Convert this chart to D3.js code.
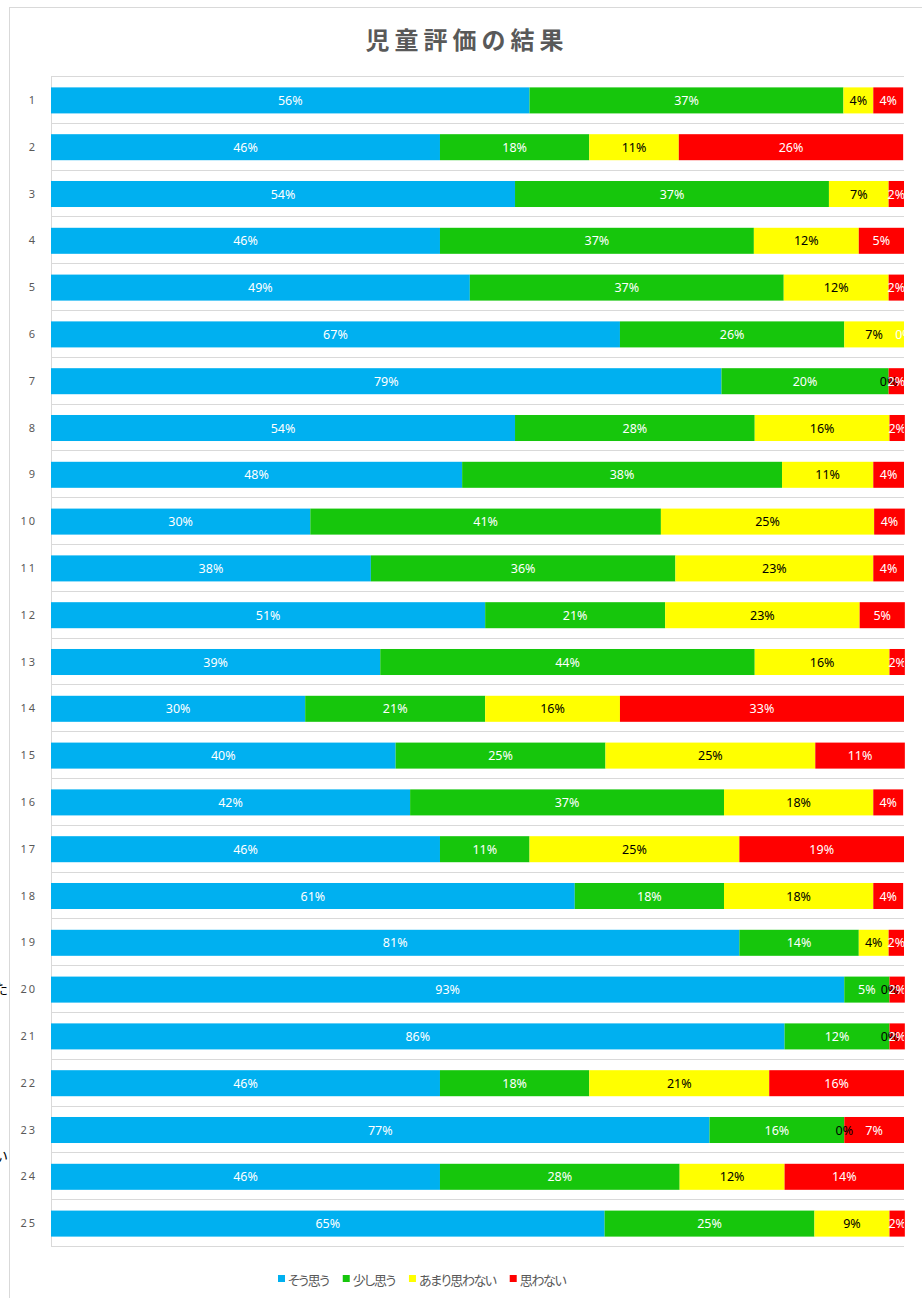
<html>
  <head>
    <meta charset="utf-8" />
    <title>児童評価の結果</title>
    <script src="https://d3js.org/d3.v7.min.js"></script>
  </head>
  <style>
    body {
      margin: 0;
      background: #ffffff;
    }
    svg {
      display: block;
    }
  </style>
  <body>
    <div id="viz"></div>
    <script>
      // data (percent of respondents per question)
      var categories = ["1","2","3","4","5","6","7","8","9","10","11","12","13",
        "14","15","16","17","18","19","20","21","22","23","24","25"];
      var seriesNames = ["そう思う", "少し思う", "あまり思わない", "思わない"];
      var souOmou = [56.1, 45.6, 54.4, 45.6, 49.1, 66.7, 78.6, 54.4, 48.2, 30.4, 37.5, 50.9, 38.6,
        29.8, 40.4, 42.1, 45.6, 61.4, 80.7, 93.0, 86.0, 45.6, 77.2, 45.6, 64.9];
      var sukoshiOmou = [36.8, 17.5, 36.8, 36.8, 36.8, 26.3, 19.6, 28.1, 37.5, 41.1, 35.7, 21.1, 43.9,
        21.1, 24.6, 36.8, 10.5, 17.5, 14.0, 5.3, 12.3, 17.5, 15.8, 28.1, 24.6];
      var amariOmowanai = [3.5, 10.5, 7.0, 12.3, 12.3, 7.0, 0, 15.8, 10.7, 25.0, 23.2, 22.8, 15.8,
        15.8, 24.6, 17.5, 24.6, 17.5, 3.5, 0, 0, 21.1, 0, 12.3, 8.8];
      var omowanai = [3.5, 26.3, 1.8, 5.3, 1.8, 0, 1.8, 1.8, 3.6, 3.6, 3.6, 5.3, 1.8,
        33.3, 10.5, 3.5, 19.3, 3.5, 1.8, 1.8, 1.8, 15.8, 7.0, 14.0, 1.8];

      var colors = ["#00b0f0", "#16c60c", "#ffff00", "#ff0000"];
      var labelColors = ["#ffffff", "#ffffff", "#000000", "#ffffff"];

      var table = categories.map(function (c, i) {
        return { cat: c, s0: souOmou[i], s1: sukoshiOmou[i], s2: amariOmowanai[i], s3: omowanai[i] };
      });
      var keys = ["s0", "s1", "s2", "s3"];
      var stacked = d3.stack().keys(keys)(table);

      var width = 922, height = 1298;
      var plot = { left: 51, right: 904, top: 77, bottom: 1247 };

      var svg = d3.select("#viz").append("svg")
        .attr("width", width)
        .attr("height", height);

      // stray characters from the sheet behind the chart
      svg.append("text").attr("x", -6).attr("y", 994)
        .style("font-family", "'Noto Sans CJK JP'").style("font-size", "14px")
        .attr("fill", "#000").text("た");
      svg.append("text").attr("x", -6).attr("y", 1161)
        .style("font-family", "'Noto Sans CJK JP'").style("font-size", "14px")
        .attr("fill", "#000").text("い");

      // chart area
      svg.append("rect")
        .attr("x", 9.5).attr("y", 7.5)
        .attr("width", 940).attr("height", 1320)
        .attr("fill", "#ffffff")
        .attr("stroke", "#d9d9d9");

      svg.append("text")
        .attr("x", 467).attr("y", 49)
        .attr("text-anchor", "middle")
        .style("font-family", "'Noto Sans CJK JP'")
        .style("font-weight", "bold")
        .style("font-size", "24px")
        .style("letter-spacing", "5px")
        .attr("fill", "#595959")
        .text("児童評価の結果");

      var x = d3.scaleLinear().domain([0, 100]).range([plot.left, plot.right]);
      var y = d3.scaleBand().domain(categories)
        .range([plot.top, plot.bottom])
        .paddingInner(0.444)
        .paddingOuter(0.222);

      // horizontal gridlines at category boundaries
      var gap = (y.step() - y.bandwidth()) / 2;
      var gridY = categories.map(function (c) { return y(c) - gap; });
      gridY.push(plot.bottom);
      svg.append("g").selectAll("line")
        .data(gridY)
        .enter()
        .append("line")
        .attr("x1", plot.left).attr("x2", plot.right)
        .attr("y1", function (d) { return Math.round(d) - 0.5; })
        .attr("y2", function (d) { return Math.round(d) - 0.5; })
        .attr("stroke", "#d9d9d9")
        .attr("stroke-width", 1);

      svg.append("line")
        .attr("x1", plot.left + 0.5).attr("x2", plot.left + 0.5)
        .attr("y1", plot.top - 1).attr("y2", plot.bottom)
        .attr("stroke", "#d9d9d9");

      // category axis
      var yAxis = d3.axisLeft(y).tickSize(0).tickPadding(14);
      var ag = svg.append("g")
        .attr("transform", "translate(" + plot.left + ",0)")
        .call(yAxis);
      ag.select(".domain").remove();
      ag.selectAll("text")
        .style("font-family", "'Noto Sans'")
        .style("font-size", "11px")
        .style("letter-spacing", "2px")
        .attr("fill", "#595959");

      // bars
      svg.append("g").selectAll("g")
        .data(stacked)
        .enter()
        .append("g")
        .attr("fill", function (d, i) { return colors[i]; })
        .selectAll("rect")
        .data(function (d) { return d; })
        .enter()
        .append("rect")
        .attr("x", function (d) { return x(d[0]); })
        .attr("width", function (d) { return x(d[1]) - x(d[0]); })
        .attr("y", function (d) { return y(d.data.cat); })
        .attr("height", y.bandwidth());

      // data labels, clipped to the plot area
      svg.append("clipPath").attr("id", "plotclip")
        .append("rect")
        .attr("x", plot.left).attr("y", plot.top)
        .attr("width", plot.right - plot.left)
        .attr("height", plot.bottom - plot.top);

      svg.append("g").attr("clip-path", "url(#plotclip)")
        .selectAll("g")
        .data(stacked)
        .enter()
        .append("g")
        .attr("fill", function (d, i) { return labelColors[i]; })
        .each(function (s) {
          d3.select(this).selectAll("text")
            .data(s)
            .enter()
            .append("text")
            .attr("x", function (d) { return (x(d[0]) + x(d[1])) / 2; })
            .attr("y", function (d) { return y(d.data.cat) + y.bandwidth() / 2; })
            .attr("dy", "0.36em")
            .attr("text-anchor", "middle")
            .style("font-family", "'Noto Sans'")
            .style("font-size", "12.5px")
            .text(function (d) { return Math.round(d.data[s.key]) + "%"; });
        });

      // legend
      var lg = svg.append("g");
      var lx = 278;
      seriesNames.forEach(function (name, i) {
        lg.append("rect")
          .attr("x", lx).attr("y", 1275)
          .attr("width", 7).attr("height", 7)
          .attr("fill", colors[i]);
        var t = lg.append("text")
          .attr("x", lx + 10).attr("y", 1285)
          .style("font-family", "'Noto Sans CJK JP'")
          .style("font-size", "13px")
          .style("letter-spacing", "-1.4px")
          .style("font-feature-settings", "'palt'")
          .attr("fill", "#595959")
          .text(name);
        lx += 10 + t.node().getComputedTextLength() + 14;
      });
    </script>
  </body>
</html>
